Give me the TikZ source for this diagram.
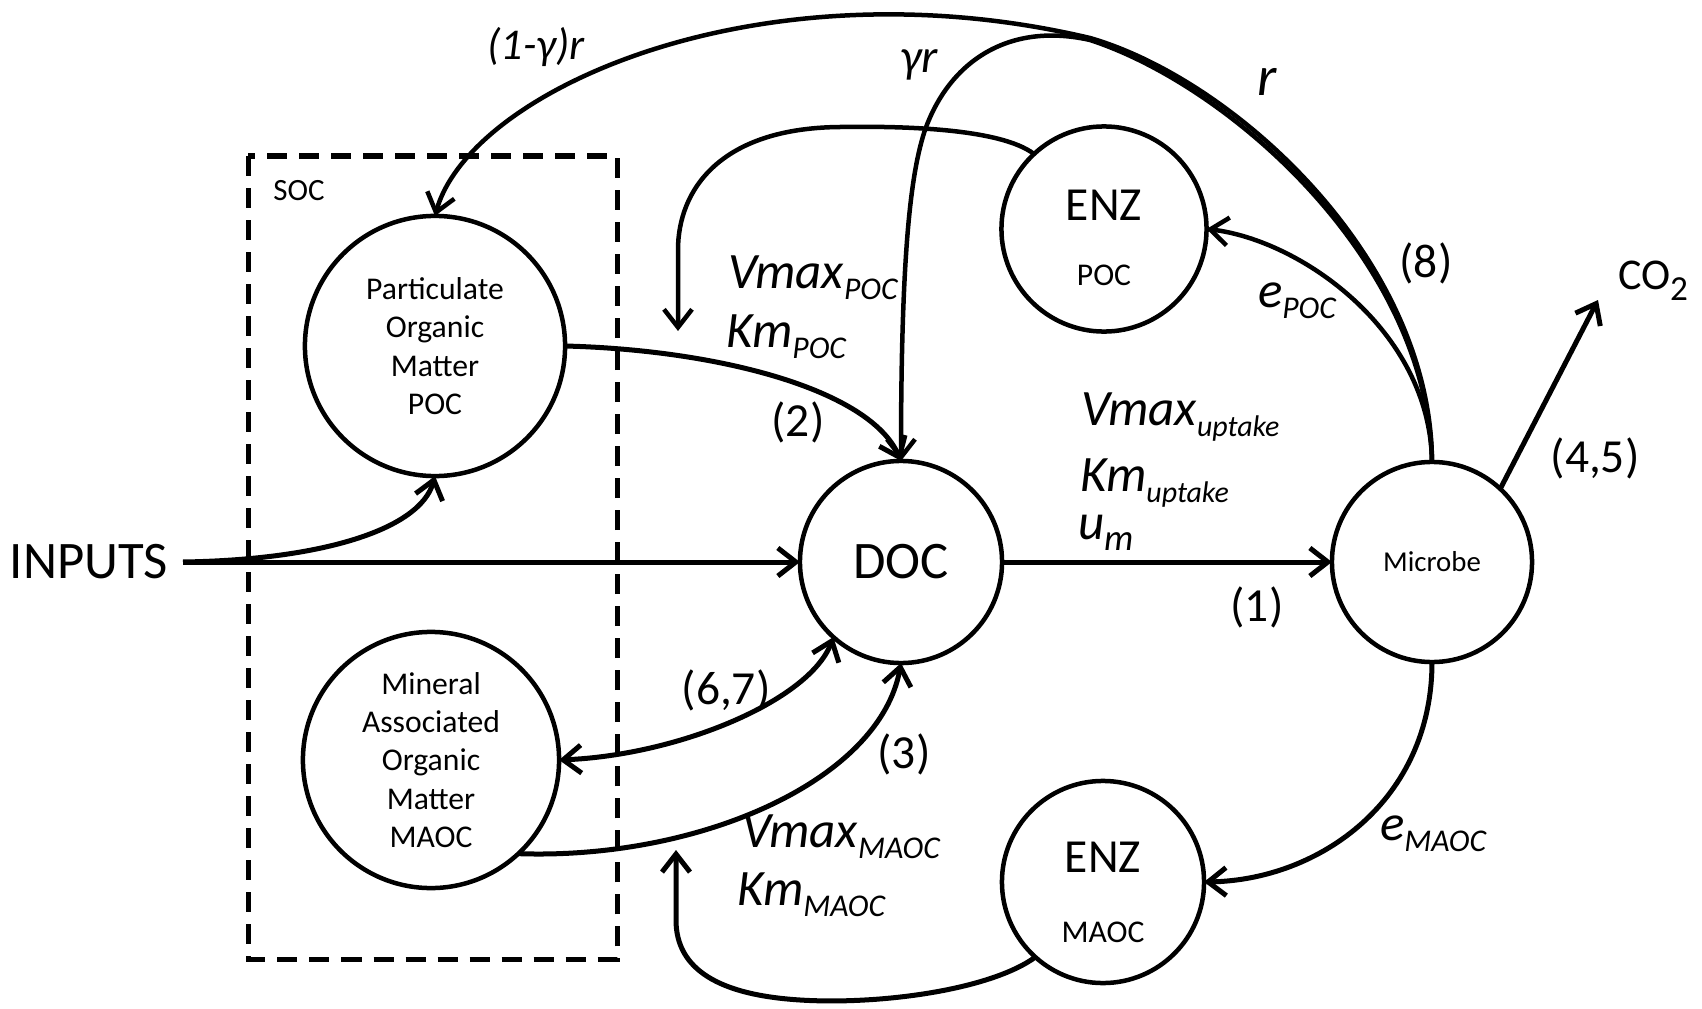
\documentclass[tikz,border=0pt]{standalone}
\usepackage{fontspec}
\setmainfont{Carlito}
\usetikzlibrary{arrows.meta}
\newcommand{\fsz}[1]{\fontsize{#1}{#1}\selectfont}
\newcommand{\sbs}[1]{\raisebox{-3.4pt}{\fsz{9pt}#1}}
\newcommand{\sbu}[1]{\raisebox{-3.2pt}{\fsz{8.5pt}#1}}
\tikzset{
  pool/.style={circle, draw, line width=0.045cm, align=center},
  conn/.style={line width=0.05cm, ->},
  arc/.style={line width=0.045cm, ->},
  socbox/.style={draw, line width=0.05cm, dash pattern=on 0.2cm off 0.12cm},
  lab/.style={font=\itshape\fsz{14.5pt}, anchor=base west},
  num/.style={font=\fsz{13.5pt}},
  >={Straight Barb[length=0.18cm,width=0.28cm]}
}
\begin{document}
\begin{tikzpicture}[x=0.01cm,y=-0.01cm, every node/.style={inner sep=0pt, outer sep=0pt}]
\useasboundingbox (0,0) rectangle (1702,1009);

% SOC frame
\draw[socbox] (248,156) rectangle (617,959);
\node[font=\fsz{8.8pt}] (soc) at (299,191) {SOC};

% pools
\node[pool, minimum size=2.6cm, font={\fontsize{9pt}{10.9pt}\selectfont}] (poc) at (435,346) {Particulate\\Organic\\Matter\\POC};
\node[pool, minimum size=2.56cm, font={\fontsize{9pt}{10.9pt}\selectfont}] (maoc) at (431,760) {Mineral\\Associated\\Organic\\Matter\\MAOC};
\node[pool, minimum size=2.02cm, font=\fsz{15pt}] (doc) at (901,562) {DOC};
\node[pool, minimum size=2.0cm, font=\fsz{8.2pt}] (mic) at (1432,562) {Microbe};
\node[pool, minimum size=2.05cm] (enzp) at (1104,229) {};
\node[pool, minimum size=2.02cm] (enzm) at (1103,882) {};
\node[font=\fsz{13.5pt}] (enzpa) at (1104,205) {ENZ};
\node[font=\fsz{9pt}] (enzpb) at (1104,275) {POC};
\node[font=\fsz{13.5pt}] (enzma) at (1103,857) {ENZ};
\node[font=\fsz{9pt}] (enzmb) at (1103,932) {MAOC};

% inputs
\node[font=\fsz{15pt}, anchor=base] (inputs) at (89,578) {INPUTS};
\coordinate (in0) at (183,562);
\coordinate (j) at (1090,38);
\coordinate (ja) at (1090,40);
\coordinate (poctip) at (678,331);
\coordinate (maoctip) at (676,850);
\coordinate (co2tip) at (1598,300);

% connectors
\draw[conn] (in0) -- (doc.west);
\draw[conn] (in0) .. controls (320,560) and (420,530) .. (poc.south);
\draw[conn] (poc.east) .. controls (720,350) and (870,390) .. (doc.north);
\draw[conn] (maoc.313) .. controls (700,860) and (880,780) .. (doc.south);
\draw[conn, <->] (maoc.east) .. controls (680,755) and (810,700) .. (doc.228);
\draw[conn] (doc.east) -- (mic.west);
\draw[conn] (mic.47) -- (co2tip);
\draw[arc] (mic.north) .. controls (1430,330) and (1300,240) .. (enzp.east);
\draw[conn] (mic.south) .. controls (1432,800) and (1320,880) .. (enzm.east);
\draw[arc] (enzp.133) .. controls (1000,128) and (900,126) .. (840,127) .. controls (720,128) and (678,190) .. (678,250) -- (poctip);
\draw[conn] (enzm.228) .. controls (990,990) and (880,1005) .. (800,1000) .. controls (720,995) and (676,970) .. (676,920) -- (maoctip);
% respiration arcs
\draw[arc] (mic.north) .. controls (1428,261) and (1231,86) .. (ja) .. controls (1010,22) and (950,60) .. (925,130) .. controls (911,172) and (901,250) .. (doc.north);
\draw[arc] (mic.north) .. controls (1431,259) and (1235,80) .. (j) .. controls (760,-40) and (470,90) .. (poc.north);

% labels
\node[font=\itshape\fsz{12.5pt}] (l1g) at (536,47) {(1-γ)r};
\node[font=\itshape\fsz{13.5pt}, anchor=base] (lgr) at (919,72) {γr};
\node[font=\itshape\fsz{16pt}, anchor=base] (lr) at (1267,95) {r};
\node[num] (n8) at (1426,263) {(8)};
\node[num] (n45) at (1595,458) {(4,5)};
\node[num] (n2) at (798,422) {(2)};
\node[num] (n1) at (1257,607) {(1)};
\node[num] (n67) at (726,690) {(6,7)};
\node[num] (n3) at (904,754) {(3)};
\node[font=\fsz{12.5pt}, anchor=base west] (co2) at (1618,289) {CO\raisebox{-3.4pt}{\fsz{10pt}2}};
\node[lab] (vmp) at (728,288) {Vmax\sbs{POC}};
\node[lab] (kmp) at (726,347) {Km\sbs{POC}};
\node[lab] (vmu) at (1081,425) {Vmax\sbu{uptake}};
\node[lab] (kmu) at (1080,491) {Km\sbu{uptake}};
\node[lab] (um) at (1078,539) {u\raisebox{-3.2pt}{\fsz{10.5pt}m}};
\node[lab] (vmm) at (742,847) {Vmax\sbs{MAOC}};
\node[lab] (kmm) at (737,905) {Km\sbs{MAOC}};
\node[lab] (epoc) at (1258,307) {e\sbs{POC}};
\node[lab] (emaoc) at (1380,840) {e\sbs{MAOC}};
\end{tikzpicture}
\end{document}
